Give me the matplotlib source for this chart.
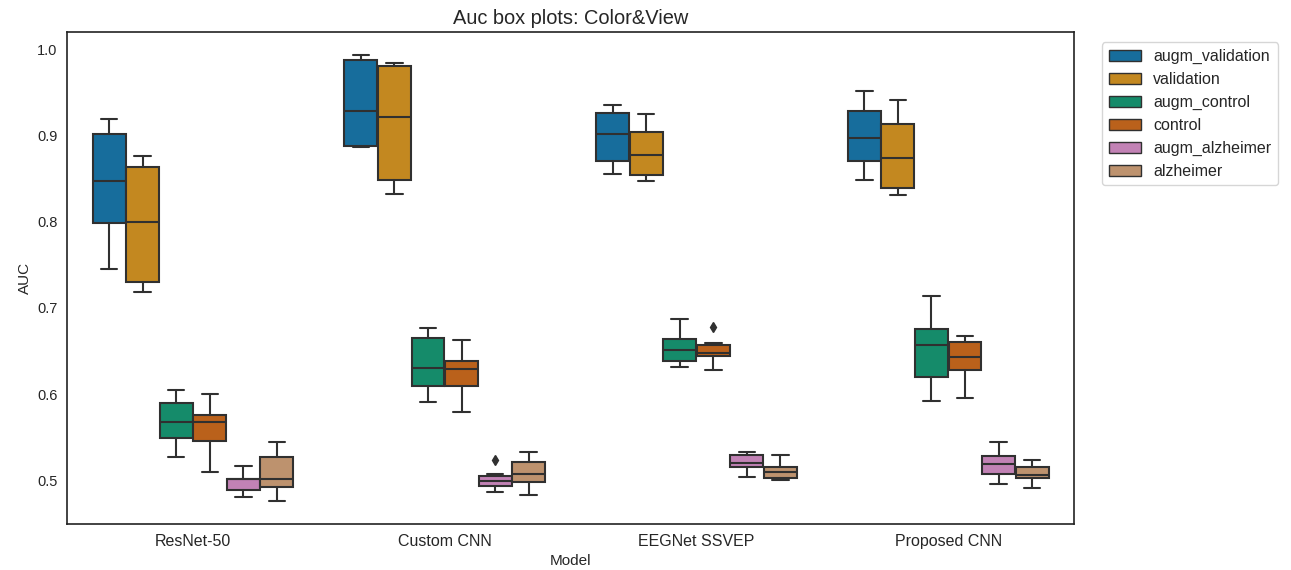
import colorsys
import matplotlib
matplotlib.use("Agg")
import matplotlib.pyplot as plt
import matplotlib.patches as mpatches
import seaborn as sns

sns.set_style("white")
plt.rcParams["font.family"] = ["Liberation Sans", "DejaVu Sans"]

models = ["ResNet-50", "Custom CNN", "EEGNet SSVEP", "Proposed CNN"]
groups = ["augm_validation", "validation", "augm_control", "control",
          "augm_alzheimer", "alzheimer"]

# per model, per group: (whislo, q1, med, q3, whishi)
resnet = [
    (0.745, 0.798, 0.847, 0.902, 0.919),
    (0.718, 0.730, 0.800, 0.864, 0.876),
    (0.527, 0.549, 0.568, 0.590, 0.605),
    (0.510, 0.546, 0.568, 0.576, 0.600),
    (0.481, 0.489, 0.501, 0.502, 0.517),
    (0.476, 0.492, 0.502, 0.527, 0.544),
]
custom = [
    (0.887, 0.888, 0.929, 0.988, 0.994),
    (0.832, 0.849, 0.921, 0.981, 0.984),
    (0.591, 0.609, 0.630, 0.665, 0.677),
    (0.579, 0.609, 0.629, 0.638, 0.663),
    (0.486, 0.493, 0.499, 0.505, 0.507),
    (0.483, 0.498, 0.507, 0.521, 0.533),
]
eegnet = [
    (0.856, 0.871, 0.902, 0.926, 0.936),
    (0.847, 0.854, 0.877, 0.904, 0.925),
    (0.632, 0.639, 0.651, 0.664, 0.687),
    (0.628, 0.644, 0.648, 0.657, 0.659),
    (0.504, 0.515, 0.520, 0.529, 0.533),
    (0.500, 0.503, 0.510, 0.515, 0.529),
]
proposed = [
    (0.849, 0.870, 0.897, 0.929, 0.952),
    (0.831, 0.839, 0.874, 0.913, 0.941),
    (0.592, 0.620, 0.657, 0.675, 0.714),
    (0.596, 0.628, 0.643, 0.661, 0.667),
    (0.496, 0.507, 0.519, 0.528, 0.544),
    (0.491, 0.503, 0.506, 0.515, 0.523),
]
# outliers: (model index, group index, value)
outliers = [(1, 4, 0.524), (2, 3, 0.678)]

palette = sns.color_palette("colorblind", len(groups))


def desaturate(c, prop=0.75):
    h, l, s = colorsys.rgb_to_hls(*c)
    return colorsys.hls_to_rgb(h, l, s * prop)


colors = [desaturate(c) for c in palette]
lum = min(colorsys.rgb_to_hls(*c)[1] for c in colors) * 0.6
gray = (lum, lum, lum)

fig = plt.figure(figsize=(12.91, 5.7), dpi=100)
ax = fig.add_axes([0.052, 0.081, 0.780, 0.863])

n = len(groups)
w = 0.8 / n
for i, model_stats in enumerate([resnet, custom, eegnet, proposed]):
    for j, (lo, q1, med, q3, hi) in enumerate(model_stats):
        fl = [v for (mi, gj, v) in outliers if mi == i and gj == j]
        st = dict(whislo=lo, q1=q1, med=med, q3=q3, whishi=hi, fliers=fl)
        pos = i - 0.4 + w * (j + 0.5)
        ax.bxp([st], positions=[pos], widths=w * 0.98, patch_artist=True,
               boxprops=dict(facecolor=colors[j], edgecolor=gray, linewidth=1.5),
               medianprops=dict(color=gray, linewidth=1.5),
               whiskerprops=dict(color=gray, linewidth=1.5),
               capprops=dict(color=gray, linewidth=1.5),
               flierprops=dict(marker="d", markersize=5, markerfacecolor=gray,
                               markeredgecolor=gray))

ax.set_xlim(-0.5, len(models) - 0.5)
ax.set_ylim(0.4495, 1.0203)
ax.set_xticks(range(len(models)))
ax.set_xticklabels(models, fontsize=11.5)
ax.set_yticks([0.5, 0.6, 0.7, 0.8, 0.9, 1.0])
ax.tick_params(axis="y", labelsize=10.5)
ax.set_xlabel("Model", fontsize=11)
ax.set_ylabel("AUC", fontsize=11)
ax.set_title("Auc box plots: Color&View", fontsize=14.4)
for sp in ax.spines.values():
    sp.set_color("#222222")
    sp.set_linewidth(1.2)

handles = [mpatches.Patch(facecolor=colors[j], edgecolor=gray, label=g)
           for j, g in enumerate(groups)]
ax.legend(handles=handles, loc="upper left", bbox_to_anchor=(1.02, 0.995),
          fontsize=11.5)

fig.savefig("out.png", dpi=100)
